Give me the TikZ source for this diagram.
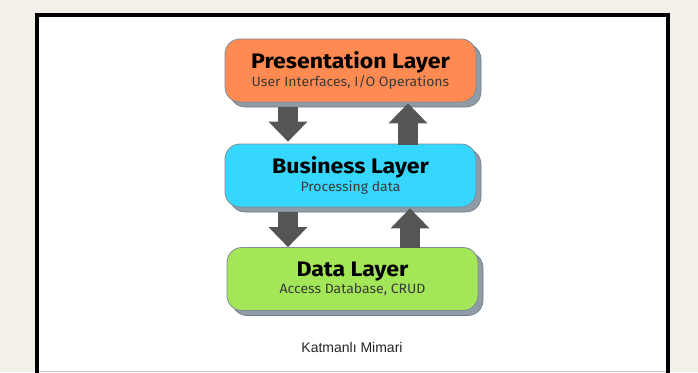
\documentclass[tikz,border=0pt]{standalone}
\usepackage{fontspec}
\setmainfont{Liberation Sans}
\newfontfamily\boxfont{Fira Sans}
\usetikzlibrary{arrows.meta,shadows}
\definecolor{bgbeige}{HTML}{F3F0E9}
\definecolor{orangefill}{HTML}{FF8B52}
\definecolor{bluefill}{HTML}{36D7FF}
\definecolor{greenfill}{HTML}{A3E658}
\definecolor{boxborder}{HTML}{7E8B97}
\definecolor{shadowfill}{HTML}{8F9BA6}
\definecolor{shadowborder}{HTML}{6E7A85}
\definecolor{arrowgray}{HTML}{555555}
\definecolor{subtext}{HTML}{3A3A3A}
\tikzset{
  layerbox/.style={draw=boxborder, line width=0.8pt, rounded corners=15pt,
    minimum width=251pt, minimum height=63pt, inner sep=0pt, align=center,
    general shadow={fill=shadowfill, draw=shadowborder, line width=0.6pt,
      shadow xshift=5pt, shadow yshift=-5pt}},
  blockarrow/.style={draw=arrowgray, line width=20pt,
    -{Triangle[width=39pt, length=20pt, fill=arrowgray, line width=0pt]}},
  frameline/.style={draw=black, line width=4pt},
}
\newcommand{\layertitle}[1]{{\boxfont\bfseries\fontsize{21}{23}\selectfont\scalebox{1.1}[1]{#1}}}
\newcommand{\layersub}[1]{{\boxfont\color{subtext}\fontsize{13.5}{15}\selectfont\scalebox{1.04}[1]{#1}}}
\begin{document}
\begin{tikzpicture}[x=1pt, y=-1pt]
\useasboundingbox (0,0) rectangle (698,372);
\fill[bgbeige] (0,0) rectangle (698,372);
\fill[white] (37,15) rectangle (668,380);
\draw[frameline] (37,385) -- (37,15) -- (668,15) -- (668,385);
\draw[gray!45, line width=1pt] (39,371) -- (666,371);

\coordinate (dnx) at (288,0);
\coordinate (upxa) at (408,0);
\coordinate (upxb) at (410,0);

\node[layerbox, fill=orangefill] (pres) at (350.5,70.5)
  {\layertitle{Presentation Layer}\\[1pt]\layersub{User Interfaces, I/O Operations}};
\node[layerbox, fill=bluefill] (bus) at (350.5,175.5)
  {\layertitle{Business Layer}\\[1pt]\layersub{Processing data}};
\node[layerbox, fill=greenfill] (data) at (352.5,279)
  {\layertitle{Data Layer}\\[1pt]\layersub{Access Database, CRUD}};

\draw[blockarrow] ([yshift=-5pt]pres.south -| dnx) -- ([yshift=2pt]bus.north -| dnx);
\draw[blockarrow] ([yshift=-1pt]bus.north -| upxa) -- ([yshift=-1pt]pres.south -| upxa);
\draw[blockarrow] ([yshift=-5pt]bus.south -| dnx) -- ([yshift=0pt]data.north -| dnx);
\draw[blockarrow] ([yshift=-1pt]data.north -| upxb) -- ([yshift=-1pt]bus.south -| upxb);

\node[font=\fontsize{14}{16}\selectfont, text=black!85] (cap) at (352,347) {Katmanlı Mimari};
\end{tikzpicture}
\end{document}
